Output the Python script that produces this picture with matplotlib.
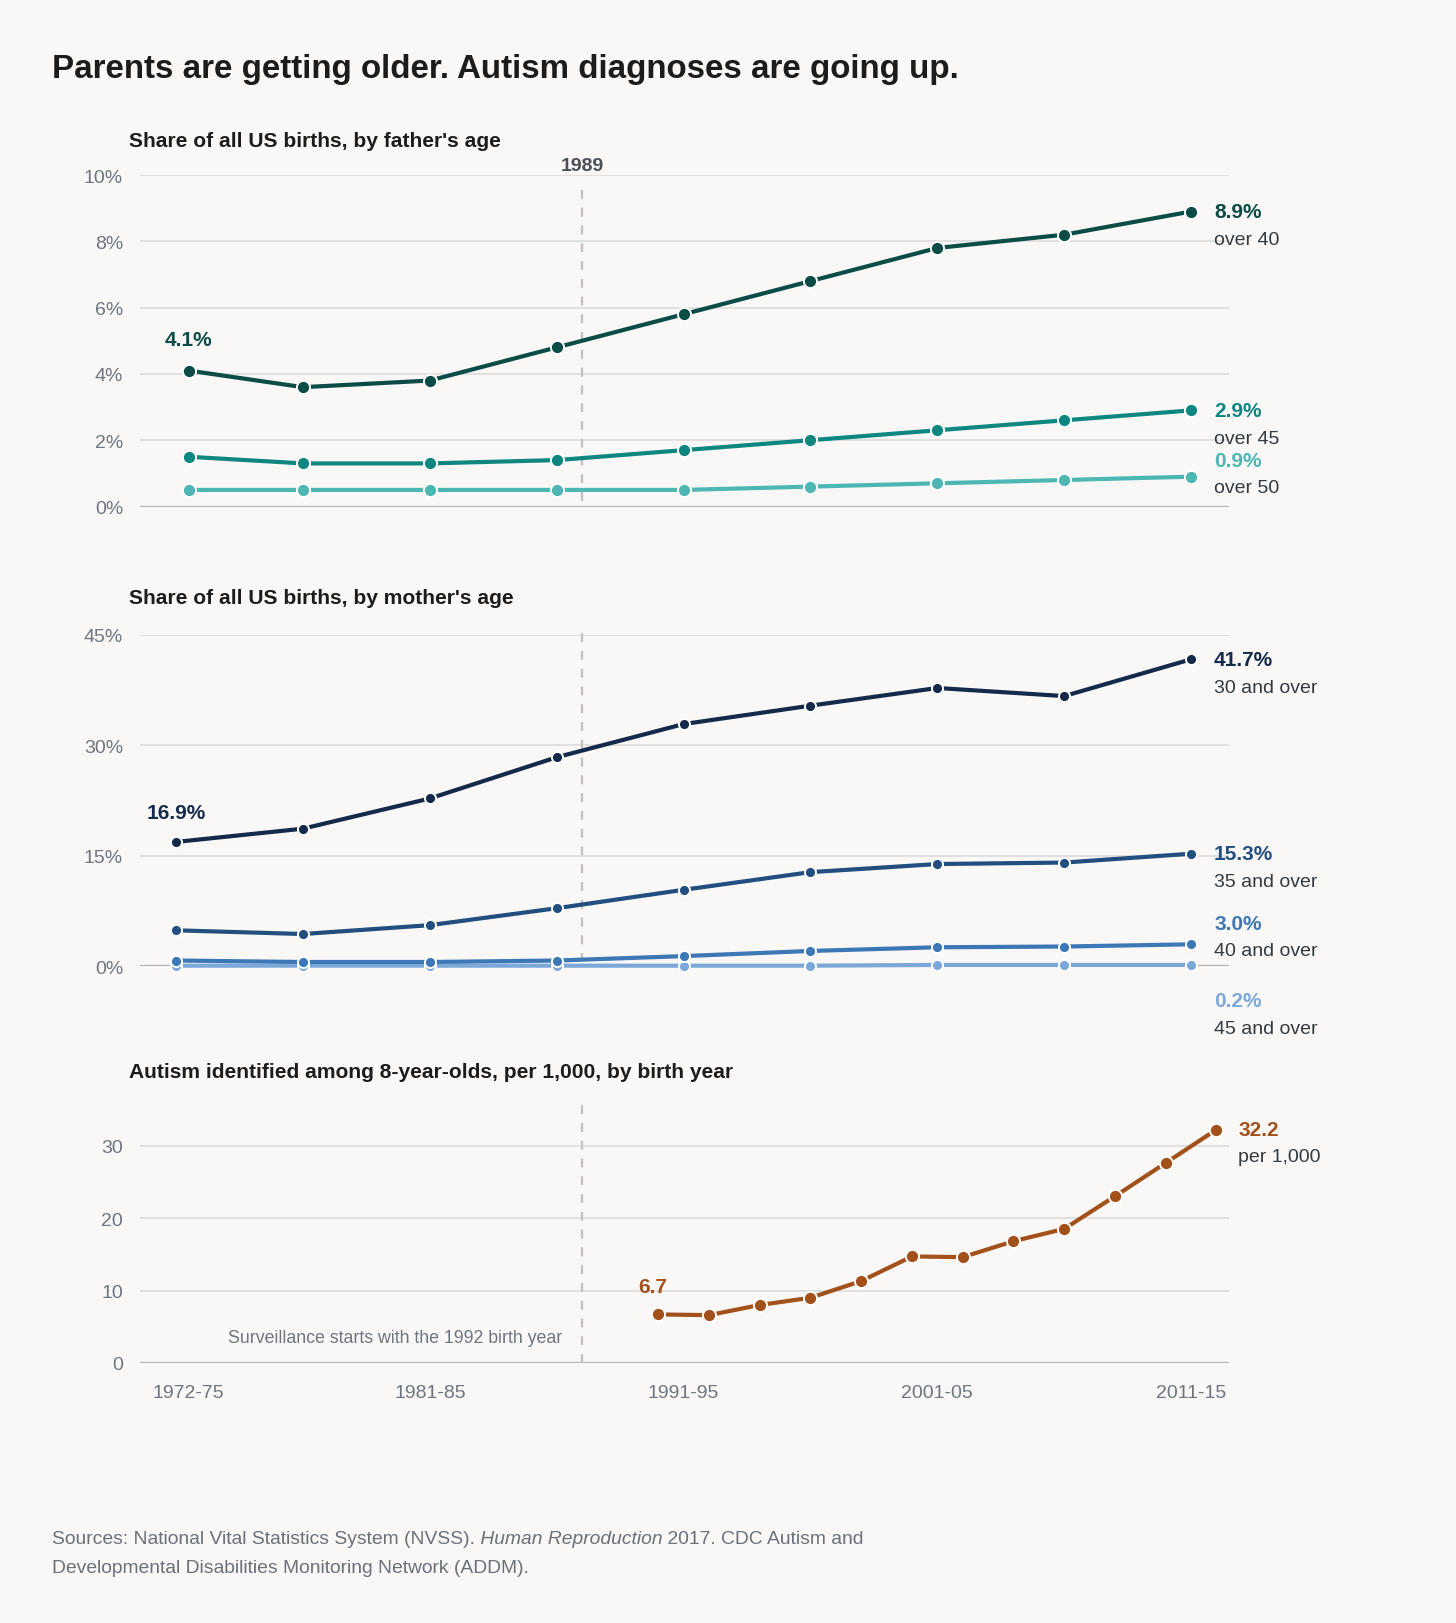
import numpy as np
import matplotlib
matplotlib.use("Agg")
import matplotlib.pyplot as plt

plt.rcParams['font.family'] = ['Liberation Sans', 'DejaVu Sans']

# ---------------- data ----------------
father_x = [1973.5, 1978, 1983, 1988, 1993, 1998, 2003, 2008, 2013]
father_over40 = [4.1, 3.6, 3.8, 4.8, 5.8, 6.8, 7.8, 8.2, 8.9]
father_over45 = [1.5, 1.3, 1.3, 1.4, 1.7, 2.0, 2.3, 2.6, 2.9]
father_over50 = [0.5, 0.5, 0.5, 0.5, 0.5, 0.6, 0.7, 0.8, 0.9]

mother_x = [1973, 1978, 1983, 1988, 1993, 1998, 2003, 2008, 2013]
mother_30 = [16.9, 18.7, 22.8, 28.4, 32.9, 35.4, 37.8, 36.7, 41.7]
mother_35 = [4.9, 4.4, 5.6, 7.9, 10.4, 12.8, 13.9, 14.1, 15.3]
mother_40 = [0.8, 0.6, 0.6, 0.8, 1.4, 2.1, 2.6, 2.7, 3.0]
mother_45 = [0.1, 0.1, 0.1, 0.1, 0.1, 0.1, 0.2, 0.2, 0.2]

autism_x = [1992, 1994, 1996, 1998, 2000, 2002, 2004, 2006, 2008, 2010, 2012, 2014]
autism_rate = [6.7, 6.6, 8.0, 9.0, 11.3, 14.7, 14.6, 16.8, 18.5, 23.0, 27.6, 32.2]

tick_pos = [1973.5, 1983, 1993, 2003, 2013]
tick_labels = ['1972-75', '1981-85', '1991-95', '2001-05', '2011-15']
marker_year = 1989
surv_year = 1992

# ---------------- style ----------------
bg = '#f9f8f7'
grid_c = '#dedede'
base_c = '#b3b3b3'
dash_c = '#c6bebb'
tick_c = '#6e7580'
dark = '#1c1c1c'
label_c = '#333a40'

fig = plt.figure(figsize=(14.56, 16.24), dpi=100)
fig.patch.set_facecolor(bg)

L, W = 0.0960, 0.7482
ax1 = fig.add_axes([L, 0.6875, W, 0.2041])
ax2 = fig.add_axes([L, 0.4043, W, 0.2041])
ax3 = fig.add_axes([L, 0.1601, W, 0.1607])

XL = (1971.57, 2014.5)


def base_axis(ax, ymax, yticks, fmt):
    ax.set_facecolor(bg)
    ax.set_xlim(*XL)
    ax.set_ylim(0, ymax)
    for s in ax.spines.values():
        s.set_visible(False)
    ax.set_yticks(yticks)
    ax.set_yticklabels([fmt.format(v) for v in yticks])
    ax.tick_params(axis='y', length=0, pad=12, labelsize=14, labelcolor=tick_c)
    for v in yticks[1:]:
        ax.axhline(v, color=grid_c, lw=1.3, zorder=1)
    ax.axhline(0, color=base_c, lw=1.6, zorder=1)


base_axis(ax1, 10, [0, 2, 4, 6, 8, 10], '{}%')
base_axis(ax2, 45, [0, 15, 30, 45], '{}%')
base_axis(ax3, 36, [0, 10, 20, 30], '{}')

for ax in (ax1, ax2):
    ax.set_xticks([])
ax3.set_xticks(tick_pos)
ax3.set_xticklabels(tick_labels)
ax3.tick_params(axis='x', length=0, pad=15, labelsize=14, labelcolor=tick_c)

# dashed reference lines
ax1.axvline(marker_year, ymin=0.016, ymax=0.975, color=dash_c, lw=1.6, ls=(0, (4, 4)), zorder=2)
ax2.axvline(marker_year, ymin=0.012, ymax=1.02, color=dash_c, lw=1.6, ls=(0, (4, 4)), zorder=2, clip_on=False)
ax3.axvline(marker_year, ymin=0, ymax=1, color=dash_c, lw=1.6, ls=(0, (4, 4)), zorder=2)


def series(ax, x, y, color, ms):
    ax.plot(x, y, color=color, lw=3.0, marker='o', ms=ms, mfc=color,
            mec='white', mew=1.4, zorder=3, clip_on=False, solid_capstyle='round')


def end_label(ax, x, y, value_txt, name, color, dy_val, dy_name, dx=23):
    ax.annotate(value_txt, xy=(x, y), xytext=(dx, dy_val), textcoords='offset pixels',
                ha='left', va='center', fontsize=15, fontweight='bold', color=color,
                annotation_clip=False)
    ax.annotate(name, xy=(x, y), xytext=(dx, dy_name), textcoords='offset pixels',
                ha='left', va='center', fontsize=14, color=label_c,
                annotation_clip=False)


def start_label(ax, x, y, txt, color, dx=0, dy=31):
    ax.annotate(txt, xy=(x, y), xytext=(dx, dy), textcoords='offset pixels',
                ha='center', va='center', fontsize=15, fontweight='bold', color=color,
                annotation_clip=False)


# ---- panel 1: fathers ----
c40, c45, c50 = '#0b4c47', '#0e8780', '#4db7b3'
series(ax1, father_x, father_over50, c50, 9.5)
series(ax1, father_x, father_over45, c45, 9.5)
series(ax1, father_x, father_over40, c40, 9.5)
end_label(ax1, father_x[-1], father_over40[-1], '{}%'.format(father_over40[-1]), 'over 40', c40, 0, -28)
end_label(ax1, father_x[-1], father_over45[-1], '{}%'.format(father_over45[-1]), 'over 45', c45, 0, -28)
end_label(ax1, father_x[-1], father_over50[-1], '{}%'.format(father_over50[-1]), 'over 50', c50, 16, -11)
start_label(ax1, father_x[0], father_over40[0], '{}%'.format(father_over40[0]), c40, dy=31)
ax1.annotate(str(marker_year), xy=(marker_year, 1), xycoords=ax1.get_xaxis_transform(),
             xytext=(0, 10), textcoords='offset pixels', annotation_clip=False,
             ha='center', va='center', fontsize=14, fontweight='bold', color='#4a4f55')

# ---- panel 2: mothers ----
m30, m35, m40, m45 = '#142a4a', '#224f7f', '#3b78b5', '#7ba8d8'
series(ax2, mother_x, mother_45, m45, 8)
series(ax2, mother_x, mother_40, m40, 8)
series(ax2, mother_x, mother_35, m35, 8)
series(ax2, mother_x, mother_30, m30, 8)
end_label(ax2, mother_x[-1], mother_30[-1], '{}%'.format(mother_30[-1]), '30 and over', m30, 0, -28)
end_label(ax2, mother_x[-1], mother_35[-1], '{}%'.format(mother_35[-1]), '35 and over', m35, 0, -28)
end_label(ax2, mother_x[-1], mother_40[-1], '{}%'.format(mother_40[-1]), '40 and over', m40, 21, -6)
end_label(ax2, mother_x[-1], mother_45[-1], '{}%'.format(mother_45[-1]), '45 and over', m45, -36, -64)
start_label(ax2, mother_x[0], mother_30[0], '{}%'.format(mother_30[0]), m30, dy=29)

# ---- panel 3: autism ----
ca = '#a3511b'
series(ax3, autism_x, autism_rate, ca, 9.5)
end_label(ax3, autism_x[-1], autism_rate[-1], '{}'.format(autism_rate[-1]), 'per 1,000', ca, 0, -27, dx=22)
start_label(ax3, autism_x[0], autism_rate[0], '{}'.format(autism_rate[0]), ca, dx=-6, dy=28)
ax3.text(surv_year - 3.77, 3.5, 'Surveillance starts with the {} birth year'.format(surv_year),
         ha='right', va='center', fontsize=12.8, color=tick_c)

# ---------------- titles ----------------
fig.text(0.0356, 0.9575, 'Parents are getting older. Autism diagnoses are going up.',
         ha='left', va='center', fontsize=23.9, fontweight='bold', color=dark)
fig.text(0.0889, 0.9126, "Share of all US births, by father's age",
         ha='left', va='center', fontsize=15.1, fontweight='bold', color=dark)
fig.text(0.0889, 0.6314, "Share of all US births, by mother's age",
         ha='left', va='center', fontsize=15.1, fontweight='bold', color=dark)
fig.text(0.0889, 0.3393, 'Autism identified among 8-year-olds, per 1,000, by birth year',
         ha='left', va='center', fontsize=15.1, fontweight='bold', color=dark)

# sources
src_c = '#6b7079'
t1 = fig.text(0.0356, 0.0523, 'Sources: National Vital Statistics System (NVSS).',
              ha='left', va='center', fontsize=13.9, color=src_c)
t2 = fig.add_artist(plt.Annotation(' Human Reproduction', xy=(1, 0), xycoords=t1,
                                   ha='left', va='bottom', fontsize=13.9, color=src_c, style='italic'))
t3 = fig.add_artist(plt.Annotation(' 2017. CDC Autism and', xy=(1, 0), xycoords=t2,
                                   ha='left', va='bottom', fontsize=13.9, color=src_c))
fig.text(0.0356, 0.0344, 'Developmental Disabilities Monitoring Network (ADDM).',
         ha='left', va='center', fontsize=13.9, color=src_c)

fig.savefig('out.png', dpi=100, facecolor=bg)
